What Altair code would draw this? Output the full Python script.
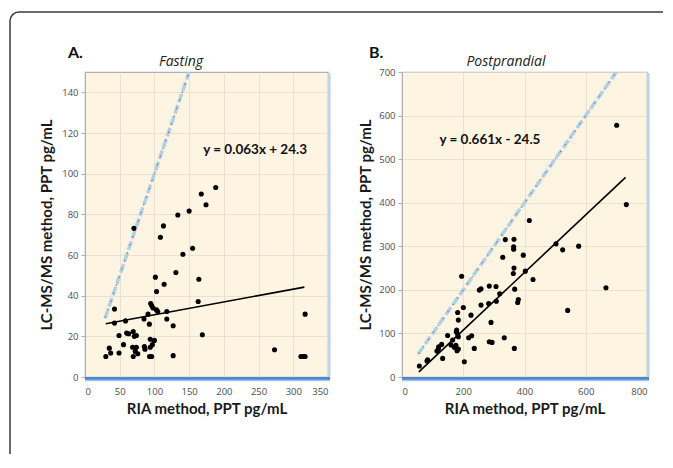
import math
import altair as alt
import pandas as pd

# ---------------- data: panel A (Fasting) ----------------
XA = [30, 35, 37, 42.5, 42.5, 49, 49, 55.5, 58.4, 60, 63, 68.6, 69.5, 70.5, 69.5,
      72.4, 71, 74, 74, 76, 85, 85.5, 86.4, 90.8, 92.7, 94, 94, 94.6, 96, 97,
      96, 93, 98, 100, 101.4, 103, 103, 104.8, 108.6, 113, 114, 117.8, 117.8, 127, 127,
      130.9, 133.7, 141, 150, 155, 163, 164, 167.5, 169, 174.3, 188.3, 273, 311, 315, 317, 317]
YA = [10.1, 14.2, 11.8, 33.4, 26.5, 11.8, 20.4, 15.9, 27.6, 21.6, 21.3, 14.6, 10.1, 73.1, 22.4,
      12.6, 20, 20.4, 14.6, 11.4, 28.5, 15, 13.7, 30.9, 26, 18.6, 14.6, 36.1, 35.2, 15.9,
      10.1, 10.1, 33.9, 18, 49.1, 42, 33, 32.2, 68.7, 74.3, 45.6, 32.2, 28.5, 25.2, 10.5,
      51.4, 79.7, 60.4, 81.6, 63.3, 37.1, 48.1, 90, 20.8, 84.7, 93.2, 13.4, 10.1, 10.1, 10.1, 30.9]

# ---------------- data: panel B (Postprandial) ----------------
XB = [56.6, 81.6, 83.8, 114, 118.6, 119.7, 129.5, 132.8, 149, 160, 165.4, 171, 176, 179.6, 184,
      177.4, 178.5, 181.8, 184, 181.8, 184, 194.8, 200.3, 203.5, 217.7, 227.5, 225.3, 236, 252.5, 258,
      258, 285, 283, 290.6, 285, 294, 307, 308, 319, 329, 337.4, 334, 365.7, 364.6, 364.6,
      365.7, 363.5, 368, 366.8, 379.9, 377.7, 396, 402.7, 415.8, 427.8, 502.9, 524.6, 541, 576.9, 666,
      701, 732.5]
YB = [25.1, 36.6, 39.6, 59.5, 64.1, 69.5, 74.8, 42.7, 95.4, 73.3, 84.8, 68, 73, 60.4, 64.1,
      103.9, 107.7, 97.8, 92.4, 148.2, 130.6, 231.4, 159.6, 35, 90.1, 94.7, 142, 65.6, 199.4, 202.5,
      165, 208.6, 168.8, 125.3, 81, 79.4, 207.8, 174, 190.9, 274.8, 315.3, 90, 316, 298.7, 293.4,
      249.9, 237.7, 201.6, 65.6, 178, 171, 279.7, 242.9, 359.1, 223.8, 305.6, 291.8, 152.9, 300.3, 204.8,
      577.7, 395.7]

XA_TICKS = [0, 50, 100, 150, 200, 250, 300, 350]
YA_TICKS = [0, 20, 40, 60, 80, 100, 120, 140]
XB_TICKS = [0, 200, 400, 600, 800]
YB_TICKS = [0, 100, 200, 300, 400, 500, 600, 700]

A_DOMX, A_DOMY = [0, 350], [0, 150]
B_DOMX, B_DOMY = [0, 800], [0, 700]

# regression (slope, intercept, x start, x end) and identity line range
A_FIT = (0.063, 24.3, 30, 316)
B_FIT = (0.661, -24.5, 55, 730)
A_ID = [29, 150]
B_ID = [53, 700]

A_EQ, A_EQ_POS = "y = 0.063x + 24.3", (245, 111.5)
B_EQ, B_EQ_POS = "y = 0.661x - 24.5", (287, 545)

XTITLE = "RIA method, PPT pg/mL"
YTITLE = "LC-MS/MS method, PPT pg/mL"

W_A, W_B, H = 243, 245, 305
BG = "#FEF4E2"
FRAME = "#3a3a3a"
ONE = pd.DataFrame({"d": [0]})


def panel(xs, ys, domx, domy, xticks, yticks, fit, ident, eq, eqpos,
          letter, letter_x, sub, sub_x, w, ytpad, frame=False):
    X = alt.X("x:Q", scale=alt.Scale(domain=domx, nice=False, zero=False),
              axis=alt.Axis(values=xticks, title=XTITLE, grid=True, ticks=False,
                            domain=False, labelPadding=9, titlePadding=6))
    Y = alt.Y("y:Q", scale=alt.Scale(domain=domy, nice=False, zero=False),
              axis=alt.Axis(values=yticks, title=YTITLE, grid=True, ticks=True,
                            tickSize=4, domain=True, labelPadding=3, titlePadding=ytpad))
    pts = pd.DataFrame({"x": xs, "y": ys})
    m, b, x0, x1 = fit
    fit_df = pd.DataFrame({"x": [x0, x1], "y": [m * x0 + b, m * x1 + b]})
    id_df = pd.DataFrame({"x": ident, "y": ident})
    eq_df = pd.DataFrame({"x": [eqpos[0]], "y": [eqpos[1]], "t": [eq]})

    layers = [
        alt.Chart(id_df).mark_line(color="#a9d3e8", strokeWidth=3.5, strokeDash=[9, 3], clip=True)
        .encode(x=X, y=Y),
        alt.Chart(id_df).mark_line(color="#ff3030", strokeWidth=1, strokeDash=[1.5, 7], clip=True)
        .encode(x=X, y=Y),
        alt.Chart(fit_df).mark_line(color="black", strokeWidth=1.6).encode(x=X, y=Y),
        alt.Chart(pts).mark_circle(size=26, color="black", opacity=1).encode(x=X, y=Y),
        alt.Chart(eq_df).mark_text(font="Lato", fontSize=13.5, fontWeight="bold", color="#111111")
        .encode(x=X, y=Y, text="t:N"),
        # blue shadow below the plot area and at its right
        alt.Chart(ONE).mark_rule(color="#4f86cf", strokeWidth=3)
        .encode(x=alt.value(0), x2=alt.value(w + 2), y=alt.value(H + 1.5)),
        alt.Chart(ONE).mark_rule(color="#a9c6ea", strokeWidth=1.5)
        .encode(x=alt.value(0), x2=alt.value(w + 2), y=alt.value(H + 3.5)),
        alt.Chart(ONE).mark_rule(color="#bcd2ec", strokeWidth=2)
        .encode(x=alt.value(w + 1.5), y=alt.value(1), y2=alt.value(H)),
        alt.Chart(ONE).mark_text(font="Lato", fontSize=16, fontWeight="bold", align="left",
                                 baseline="middle", color="#111111")
        .encode(x=alt.value(letter_x), y=alt.value(-19), text=alt.value(letter)),
        alt.Chart(ONE).mark_text(font="Open Sans", fontSize=14, fontStyle="italic",
                                 align="center", baseline="middle", color="#222222")
        .encode(x=alt.value(sub_x), y=alt.value(-10), text=alt.value(sub)),
    ]
    if frame:
        layers += [
            alt.Chart(ONE).mark_rule(color=FRAME, strokeWidth=1.5)
            .encode(x=alt.value(-66), x2=alt.value(578), y=alt.value(-60)),
            alt.Chart(ONE).mark_rule(color=FRAME, strokeWidth=1.5)
            .encode(x=alt.value(-75), y=alt.value(-51), y2=alt.value(382)),
            alt.Chart(ONE).mark_arc(color=FRAME, radius=9.75, radius2=8.25,
                                    theta=1.5 * math.pi, theta2=2 * math.pi)
            .encode(x=alt.value(-66), y=alt.value(-51)),
        ]
    return alt.layer(*layers).properties(width=w, height=H)


left = panel(XA, YA, A_DOMX, A_DOMY, XA_TICKS, YA_TICKS, A_FIT, A_ID, A_EQ, A_EQ_POS,
             "A.", -17, "Fasting", 96, W_A, 7, frame=True)
right = panel(XB, YB, B_DOMX, B_DOMY, XB_TICKS, YB_TICKS, B_FIT, B_ID, B_EQ, B_EQ_POS,
              "B.", -33, "Postprandial", 104, W_B, 5)

chart = alt.hconcat(left, right, spacing=74, bounds="flush").properties(
    padding={"left": 0, "top": 2, "right": 0, "bottom": 0}
).configure_view(
    fill=BG, stroke="#b0b0b0", strokeWidth=1.2
).configure_axis(
    labelFont="Open Sans", labelFontSize=9.5, labelColor="#4d4d4d",
    titleFont="Lato", titleFontSize=15, titleFontWeight="bold", titleColor="#1a1a1a",
    gridColor="#e3dccd", gridWidth=0.8, tickColor="#b0b0b0", domainColor="#b0b0b0"
)

chart.save("out.html", embed_options={"renderer": "svg", "actions": False})
